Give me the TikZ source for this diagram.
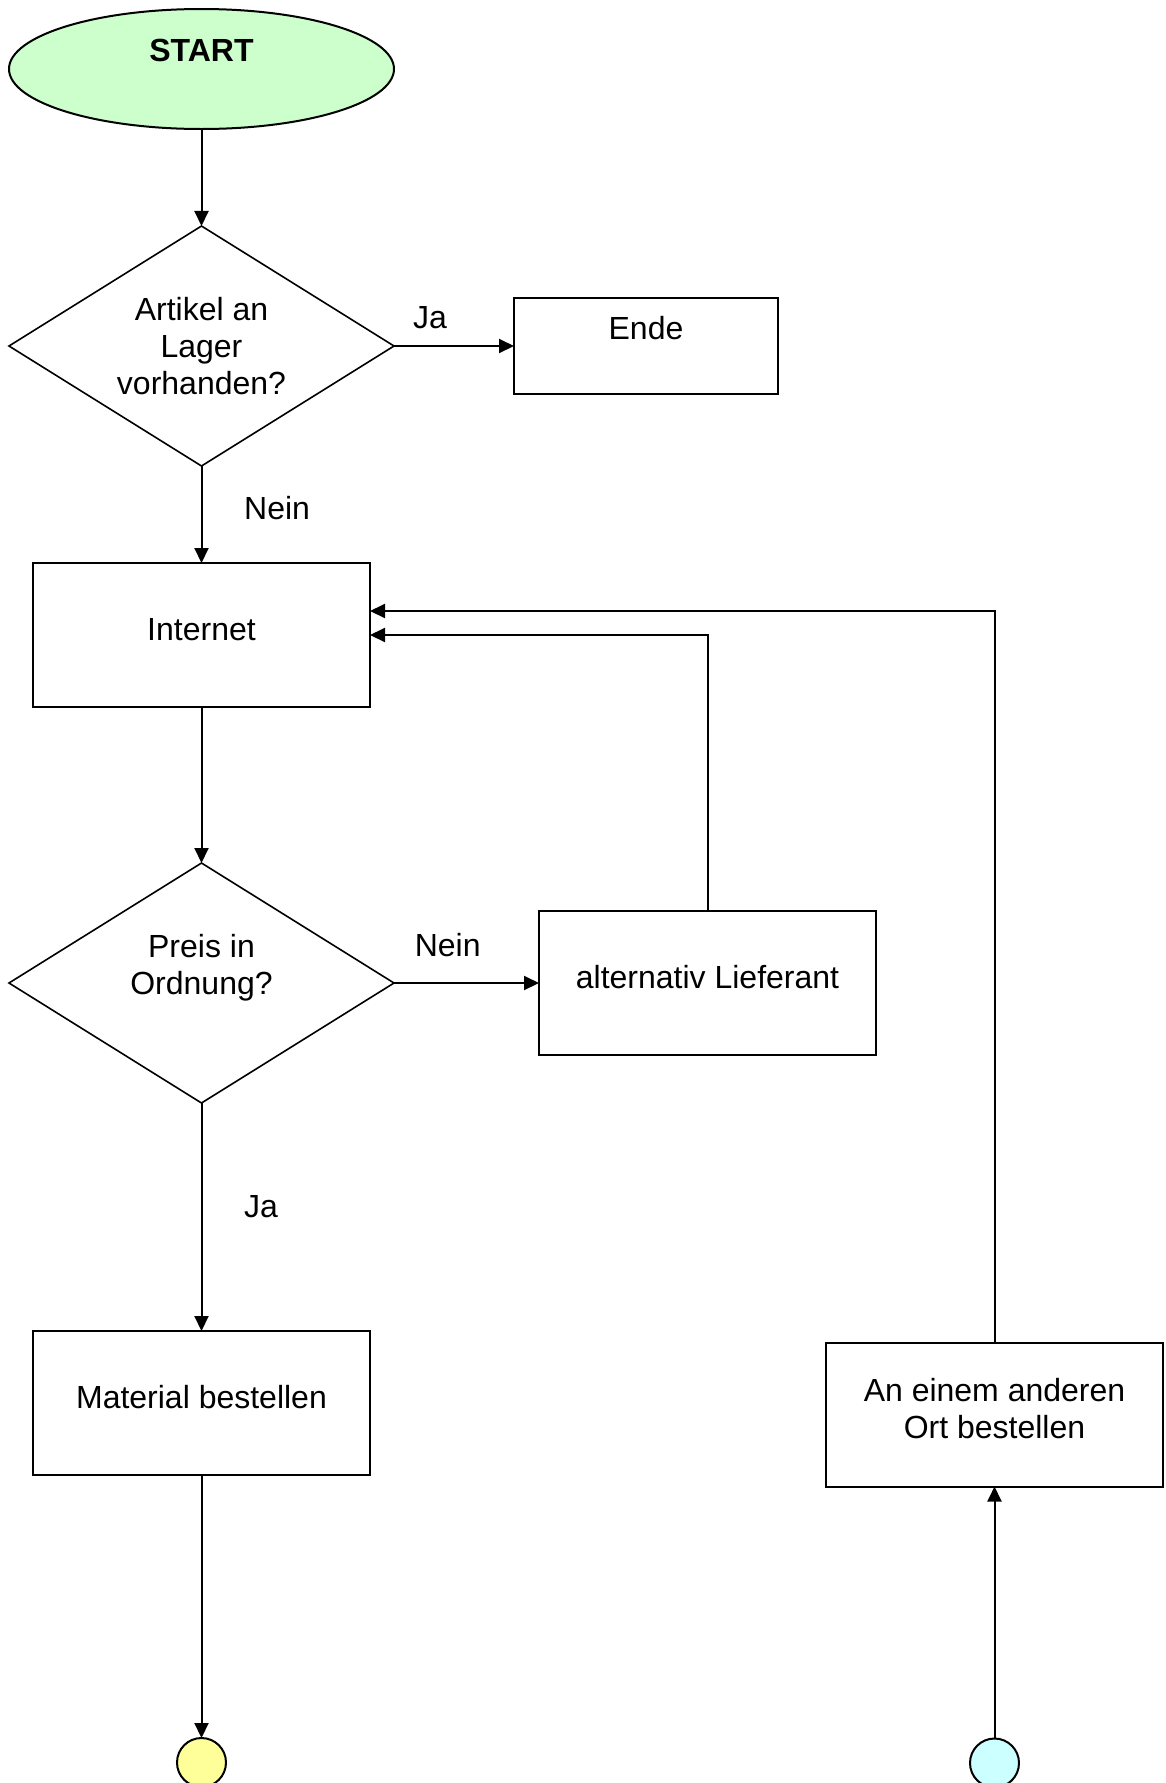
\documentclass[tikz,border=0pt]{standalone}
\usepackage{fontspec}
\setmainfont{Liberation Sans}
\usetikzlibrary{shapes.geometric,positioning,arrows.meta}
\definecolor{startgreen}{HTML}{CCFFCC}
\definecolor{endyellow}{HTML}{FFFF99}
\definecolor{endcyan}{HTML}{CCFFFF}
\begin{document}
\begin{tikzpicture}[
    font=\fontsize{16}{18.5}\selectfont,
    line width=1pt,
    startstop/.style={ellipse, draw, fill=startgreen, outer sep=0pt, minimum width=192.5pt, minimum height=60pt, align=center},
    decision/.style={diamond, draw, line width=0.8pt, outer sep=0pt, aspect=1.6, minimum width=192.5pt, minimum height=120pt, align=center, inner sep=0pt},
    process/.style={rectangle, draw, outer sep=0pt, minimum width=168.5pt, minimum height=72pt, text depth=6pt, align=center},
    connector/.style={circle, draw, outer sep=0pt, minimum size=24.5pt, inner sep=0pt},
    arrow/.style={-{Triangle[length=7.5pt,width=7pt]}},
  ]
  \useasboundingbox (0,0) rectangle (583pt,-891.5pt);

  \node[startstop] (start) at (100.75pt,-34.5pt) {\textbf{START}\\ \mbox{}};
  \node[decision]  (lager) [below=48.5pt of start] {Artikel an\\Lager\\vorhanden?};
  \node[process, minimum width=132pt, minimum height=48pt, text depth=0pt] (ende) [right=60pt of lager] {Ende\\ \mbox{}};
  \node[process]   (internet) [below=48.5pt of lager] {Internet};
  \node[decision]  (preis) [below=78pt of internet] {Preis in\\Ordnung?\\ \mbox{}};
  \node[process]   (alt) [right=72.5pt of preis] {alternativ Lieferant};
  \node[process]   (material) [below=114pt of preis] {Material bestellen};
  \node[process]   (anders) [right=228pt of material, yshift=-5.75pt] {An einem anderen\\Ort bestellen};
  \node[connector, fill=endyellow] (endmat) [below=131.5pt of material] {};
  \node[connector, fill=endcyan]   (endort) [below=126pt of anders] {};

  \draw[arrow] (start) -- (lager);
  \draw[arrow] (lager) -- node[pos=0.3, above=5pt] {Ja} (ende);
  \draw[arrow] (lager) -- node[pos=0.43, right=17.5pt] {Nein} (internet);
  \draw[arrow] (internet) -- (preis);
  \draw[arrow] (preis) -- node[pos=0.37, above=9.5pt] {Nein} (alt);
  \draw[arrow] (preis) -- node[pos=0.456, right=17.5pt] {Ja} (material);
  \draw[arrow] (material) -- (endmat);
  \draw[arrow] (endort) -- (anders);
  \draw[arrow] (anders.north) |- ([yshift=12pt]internet.east);
  \draw[arrow] (alt.north) |- (internet.east);
\end{tikzpicture}
\end{document}
